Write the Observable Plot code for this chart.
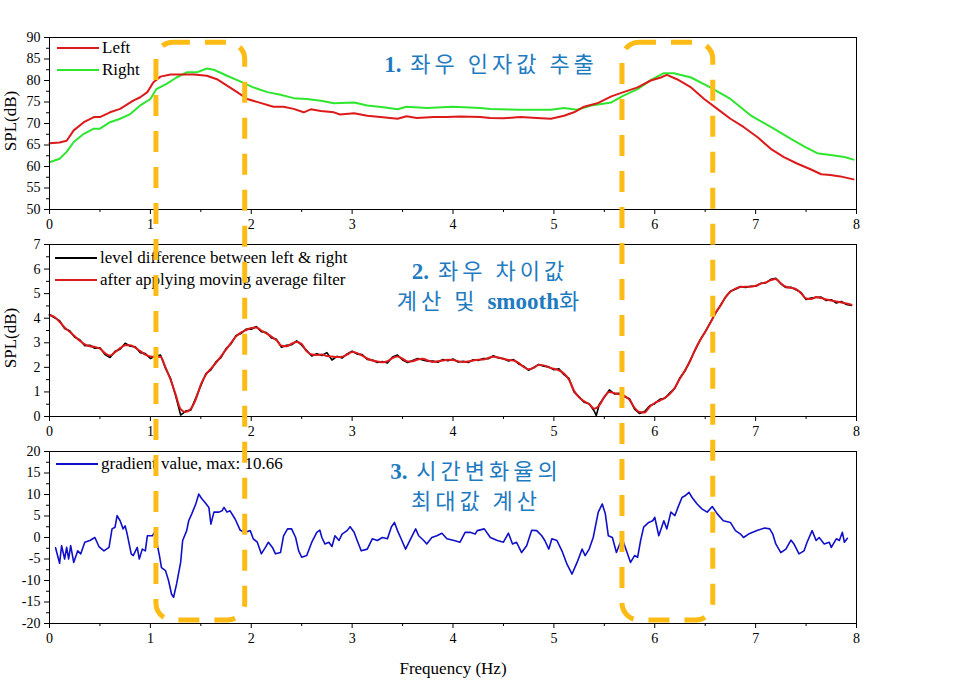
<!DOCTYPE html>
<html><head><meta charset="utf-8">
<script src="https://cdn.jsdelivr.net/npm/d3@7"></script>
<script src="https://cdn.jsdelivr.net/npm/@observablehq/plot@0.6"></script>
<style>
body{margin:0;background:#fff;}
#wrap{position:relative;width:954px;height:695px;background:#fff;overflow:hidden;}
.pl{position:absolute;left:0;}
.legend{position:absolute;display:flex;align-items:center;font-size:17px;font-family:"Liberation Serif",serif;white-space:nowrap;height:22px;color:#000;}
.legend svg{margin-right:3px;}
.ann{position:absolute;color:#1f7bbf;font-family:"Noto Sans CJK KR",sans-serif;font-size:22px;text-align:center;letter-spacing:4px;line-height:27.5px;white-space:nowrap;transform:translateX(-50%);}
.ann b{font-family:"Liberation Serif",serif;font-weight:bold;letter-spacing:0;font-size:23px;}
.ylab{position:absolute;font-family:"Liberation Serif",serif;font-size:17px;transform:translate(-50%,-50%) rotate(-90deg);white-space:nowrap;}
.xlab{position:absolute;font-family:"Liberation Serif",serif;font-size:17px;transform:translate(-50%,-50%);white-space:nowrap;}
</style></head>
<body>
<div id="wrap"></div>
<script>
// ---------- data ----------
const xTicks = [0,1,2,3,4,5,6,7,8];
const xMinor = [0.5,1.5,2.5,3.5,4.5,5.5,6.5,7.5];

const p1Ticks = [50,55,60,65,70,75,80,85,90];
const p1Minor = [52.5,57.5,62.5,67.5,72.5,77.5,82.5,87.5];
const p2Ticks = [0,1,2,3,4,5,6,7];
const p2Minor = [0.5,1.5,2.5,3.5,4.5,5.5,6.5];
const p3Ticks = [-20,-15,-10,-5,0,5,10,15,20];
const p3Minor = [-17.5,-12.5,-7.5,-2.5,2.5,7.5,12.5,17.5];

const leftSPL = [[0,65.4],[0.1,65.6],[0.17,66.0],[0.24,68.4],[0.34,70.3],[0.44,71.5],[0.5,71.5],[0.6,72.6],[0.7,73.4],[0.83,75.3],[0.9,76.1],[0.97,77.3],[1.03,79.6],[1.1,80.9],[1.2,81.4],[1.33,81.4],[1.43,81.4],[1.56,81.1],[1.66,80.3],[1.76,78.8],[1.86,77.3],[1.96,75.7],[2.09,74.8],[2.22,73.9],[2.32,73.9],[2.42,73.4],[2.52,72.6],[2.59,73.3],[2.69,72.9],[2.82,72.6],[2.88,72.1],[3.02,72.4],[3.15,71.8],[3.28,71.5],[3.45,71.1],[3.54,71.7],[3.64,71.3],[3.81,71.5],[3.94,71.5],[4.07,71.6],[4.27,71.5],[4.37,71.3],[4.5,71.2],[4.67,71.5],[4.83,71.3],[4.97,71.1],[5.1,71.8],[5.2,72.6],[5.3,73.9],[5.43,74.7],[5.57,76.3],[5.69,77.3],[5.83,78.4],[5.96,80.0],[6.06,80.7],[6.12,81.3],[6.22,80.3],[6.36,78.4],[6.49,75.7],[6.62,73.4],[6.75,71.1],[6.88,69.2],[7.02,66.8],[7.15,64.1],[7.28,62.2],[7.41,60.7],[7.55,59.3],[7.65,58.2],[7.74,58.0],[7.84,57.7],[7.97,57.0]];

const rightSPL = [[0,61.0],[0.1,61.8],[0.17,63.4],[0.24,65.7],[0.34,67.6],[0.44,68.8],[0.5,68.8],[0.6,70.3],[0.7,71.1],[0.8,72.2],[0.9,74.2],[1.0,75.7],[1.06,78.0],[1.16,79.2],[1.26,80.7],[1.36,81.9],[1.46,81.9],[1.56,82.8],[1.63,82.5],[1.76,81.1],[1.89,79.8],[2.02,78.4],[2.16,77.3],[2.29,76.7],[2.42,75.9],[2.55,75.7],[2.69,75.3],[2.82,74.7],[3.02,74.9],[3.15,74.2],[3.31,73.8],[3.45,73.3],[3.54,73.9],[3.74,73.6],[4.0,73.9],[4.27,73.6],[4.37,73.4],[4.67,73.2],[4.97,73.2],[5.1,73.6],[5.23,73.2],[5.37,74.2],[5.57,74.9],[5.69,76.5],[5.83,78.0],[5.96,80.1],[6.09,81.7],[6.19,81.7],[6.36,80.7],[6.55,78.4],[6.75,75.7],[6.95,71.9],[7.15,69.2],[7.35,66.4],[7.48,64.7],[7.61,63.1],[7.74,62.7],[7.88,62.2],[7.97,61.6]];

const levelDiff = [[0,4.15],[0.05,4.02],[0.1,3.90],[0.15,3.58],[0.2,3.49],[0.25,3.22],[0.3,3.12],[0.35,2.88],[0.4,2.90],[0.45,2.78],[0.5,2.80],[0.55,2.52],[0.6,2.40],[0.65,2.66],[0.7,2.74],[0.75,2.98],[0.8,2.86],[0.85,2.84],[0.9,2.60],[0.95,2.56],[1.0,2.36],[1.05,2.46],[1.1,2.50],[1.15,1.96],[1.2,1.55],[1.25,0.85],[1.3,0.06],[1.35,0.22],[1.4,0.26],[1.45,0.75],[1.5,1.25],[1.55,1.74],[1.6,1.90],[1.65,2.22],[1.7,2.40],[1.75,2.76],[1.8,2.96],[1.85,3.30],[1.9,3.38],[1.95,3.56],[2.0,3.55],[2.05,3.66],[2.1,3.45],[2.15,3.42],[2.2,3.20],[2.25,3.14],[2.3,2.82],[2.35,2.90],[2.4,2.92],[2.45,3.08],[2.5,2.90],[2.55,2.68],[2.6,2.46],[2.65,2.55],[2.7,2.48],[2.75,2.60],[2.8,2.30],[2.85,2.45],[2.9,2.38],[2.95,2.55],[3.0,2.66],[3.05,2.54],[3.1,2.52],[3.15,2.32],[3.2,2.30],[3.25,2.20],[3.3,2.24],[3.35,2.18],[3.4,2.42],[3.45,2.50],[3.5,2.30],[3.55,2.20],[3.6,2.28],[3.65,2.36],[3.7,2.30],[3.75,2.25],[3.8,2.26],[3.85,2.21],[3.9,2.32],[3.95,2.27],[4.0,2.34],[4.05,2.22],[4.1,2.25],[4.15,2.20],[4.2,2.31],[4.25,2.28],[4.3,2.36],[4.35,2.35],[4.4,2.47],[4.45,2.38],[4.5,2.36],[4.55,2.26],[4.6,2.32],[4.65,2.14],[4.7,2.05],[4.75,1.88],[4.8,2.00],[4.85,2.12],[4.9,2.05],[4.95,2.02],[5.0,1.90],[5.05,1.94],[5.1,1.70],[5.15,1.55],[5.2,1.00],[5.25,0.80],[5.3,0.58],[5.35,0.52],[5.4,0.22],[5.42,0.04],[5.45,0.50],[5.5,0.78],[5.55,1.08],[5.6,0.92],[5.65,0.94],[5.7,0.80],[5.75,0.72],[5.8,0.30],[5.85,0.12],[5.9,0.20],[5.95,0.44],[6.0,0.52],[6.05,0.70],[6.1,0.74],[6.15,0.96],[6.2,1.15],[6.25,1.58],[6.3,1.85],[6.35,2.28],[6.4,2.70],[6.45,3.12],[6.5,3.44],[6.55,3.82],[6.6,4.18],[6.65,4.52],[6.7,4.84],[6.75,5.10],[6.8,5.18],[6.85,5.29],[6.9,5.25],[6.95,5.30],[7.0,5.30],[7.05,5.42],[7.1,5.44],[7.15,5.58],[7.2,5.62],[7.25,5.40],[7.3,5.25],[7.35,5.26],[7.4,5.16],[7.45,5.05],[7.5,4.76],[7.55,4.82],[7.6,4.84],[7.65,4.86],[7.7,4.72],[7.75,4.75],[7.8,4.62],[7.85,4.68],[7.9,4.56],[7.95,4.52]];

const smoothDiff = [[0,4.12],[0.05,4.05],[0.1,3.85],[0.15,3.62],[0.2,3.45],[0.25,3.27],[0.3,3.08],[0.35,2.94],[0.4,2.86],[0.45,2.83],[0.5,2.76],[0.55,2.58],[0.6,2.48],[0.65,2.62],[0.7,2.78],[0.75,2.90],[0.8,2.90],[0.85,2.80],[0.9,2.66],[0.95,2.52],[1.0,2.44],[1.05,2.42],[1.1,2.43],[1.15,2.00],[1.2,1.50],[1.25,0.90],[1.3,0.30],[1.35,0.18],[1.4,0.31],[1.45,0.70],[1.5,1.30],[1.55,1.70],[1.6,1.95],[1.65,2.18],[1.7,2.45],[1.75,2.72],[1.8,3.00],[1.85,3.26],[1.9,3.42],[1.95,3.52],[2.0,3.60],[2.05,3.62],[2.1,3.50],[2.15,3.38],[2.2,3.25],[2.25,3.10],[2.3,2.88],[2.35,2.86],[2.4,2.96],[2.45,3.03],[2.5,2.95],[2.55,2.65],[2.6,2.52],[2.65,2.50],[2.7,2.52],[2.75,2.46],[2.8,2.44],[2.85,2.42],[2.9,2.43],[2.95,2.52],[3.0,2.62],[3.05,2.58],[3.1,2.48],[3.15,2.36],[3.2,2.28],[3.25,2.24],[3.3,2.21],[3.35,2.25],[3.4,2.38],[3.45,2.44],[3.5,2.35],[3.55,2.24],[3.6,2.25],[3.65,2.32],[3.7,2.35],[3.75,2.28],[3.8,2.22],[3.85,2.25],[3.9,2.28],[3.95,2.31],[4.0,2.30],[4.05,2.25],[4.1,2.22],[4.15,2.24],[4.2,2.28],[4.25,2.31],[4.3,2.32],[4.35,2.38],[4.4,2.43],[4.45,2.40],[4.5,2.34],[4.55,2.30],[4.6,2.28],[4.65,2.18],[4.7,2.02],[4.75,1.92],[4.8,1.98],[4.85,2.10],[4.9,2.08],[4.95,2.00],[5.0,1.94],[5.05,1.88],[5.1,1.75],[5.15,1.50],[5.2,1.05],[5.25,0.78],[5.3,0.62],[5.35,0.50],[5.4,0.32],[5.45,0.45],[5.5,0.80],[5.55,1.00],[5.6,0.95],[5.65,0.90],[5.7,0.84],[5.75,0.68],[5.8,0.35],[5.85,0.18],[5.9,0.16],[5.95,0.40],[6.0,0.55],[6.05,0.65],[6.1,0.76],[6.15,0.92],[6.2,1.18],[6.25,1.55],[6.3,1.88],[6.35,2.25],[6.4,2.72],[6.45,3.10],[6.5,3.45],[6.55,3.80],[6.6,4.20],[6.65,4.50],[6.7,4.85],[6.75,5.08],[6.8,5.20],[6.85,5.27],[6.9,5.28],[6.95,5.28],[7.0,5.32],[7.05,5.40],[7.1,5.46],[7.15,5.55],[7.2,5.60],[7.25,5.42],[7.3,5.28],[7.35,5.24],[7.4,5.18],[7.45,5.02],[7.5,4.80],[7.55,4.78],[7.6,4.86],[7.65,4.82],[7.7,4.76],[7.75,4.72],[7.8,4.68],[7.85,4.64],[7.9,4.60],[7.95,4.55]];

const gradient = [[0.06,-2.4],[0.1,-6.0],[0.12,-1.9],[0.15,-5.0],[0.17,-2.3],[0.19,-5.0],[0.21,-1.9],[0.24,-5.8],[0.28,-3.1],[0.31,-3.8],[0.35,-1.1],[0.4,-0.7],[0.45,0.0],[0.49,-2.1],[0.54,-3.1],[0.59,-2.3],[0.62,2.0],[0.65,2.4],[0.67,5.1],[0.7,3.9],[0.73,2.0],[0.75,2.7],[0.77,0.8],[0.81,-3.8],[0.83,-4.2],[0.87,-2.3],[0.89,-5.0],[0.92,-2.7],[0.95,-3.1],[0.97,0.4],[1.02,0.4],[1.04,1.2],[1.06,-0.7],[1.09,-4.2],[1.11,-7.0],[1.15,-7.7],[1.18,-10.0],[1.21,-13.2],[1.23,-13.9],[1.26,-10.8],[1.3,-5.8],[1.32,-0.7],[1.36,1.6],[1.38,3.9],[1.41,5.5],[1.45,7.8],[1.48,10.1],[1.51,9.0],[1.54,8.2],[1.58,7.0],[1.6,3.1],[1.63,5.9],[1.68,5.9],[1.71,6.2],[1.73,7.0],[1.76,5.9],[1.79,6.2],[1.84,4.3],[1.89,1.7],[1.94,1.2],[1.99,1.6],[2.02,-0.3],[2.06,-1.1],[2.1,-3.8],[2.14,-2.3],[2.17,-1.1],[2.21,-2.3],[2.24,-3.8],[2.29,-3.5],[2.32,0.4],[2.36,2.0],[2.4,2.0],[2.44,0.0],[2.47,-3.1],[2.5,-4.6],[2.55,-4.2],[2.6,-1.1],[2.65,1.2],[2.68,1.7],[2.7,0.0],[2.73,-1.5],[2.77,-1.1],[2.8,-2.1],[2.83,0.4],[2.87,-0.7],[2.9,0.8],[2.95,1.6],[2.98,2.5],[3.02,1.2],[3.05,-0.7],[3.09,-3.1],[3.15,-2.7],[3.2,-0.3],[3.25,-0.7],[3.3,0.0],[3.35,-0.3],[3.39,2.5],[3.42,3.5],[3.45,1.6],[3.48,0.0],[3.53,-2.7],[3.58,-0.3],[3.63,2.0],[3.66,0.4],[3.71,-0.7],[3.74,-1.5],[3.79,0.0],[3.84,0.4],[3.89,1.0],[3.94,-0.3],[4.01,-0.7],[4.07,-1.1],[4.12,1.2],[4.17,1.2],[4.22,0.8],[4.24,1.6],[4.31,2.0],[4.37,0.0],[4.44,-0.7],[4.5,-1.1],[4.55,1.0],[4.59,-1.5],[4.63,-1.1],[4.68,-3.5],[4.73,-1.9],[4.78,1.7],[4.83,1.6],[4.88,0.4],[4.91,-0.7],[4.95,-2.7],[4.98,-0.3],[5.03,-0.7],[5.08,-3.1],[5.13,-6.2],[5.18,-8.5],[5.23,-5.8],[5.28,-2.7],[5.31,-4.2],[5.35,-2.7],[5.39,0.0],[5.44,5.9],[5.48,7.8],[5.51,5.5],[5.54,0.4],[5.58,0.0],[5.62,-3.5],[5.66,-1.1],[5.69,-1.1],[5.73,-3.8],[5.76,-5.8],[5.8,-4.2],[5.83,-4.6],[5.86,-0.7],[5.89,2.4],[5.94,3.5],[5.98,3.9],[6.0,4.7],[6.04,0.4],[6.09,3.9],[6.12,2.0],[6.16,5.9],[6.2,5.1],[6.23,7.0],[6.27,9.3],[6.3,9.7],[6.34,10.5],[6.37,9.3],[6.42,7.8],[6.47,6.6],[6.52,5.9],[6.57,7.2],[6.62,5.5],[6.68,3.9],[6.75,3.5],[6.8,1.6],[6.85,0.8],[6.88,0.0],[6.93,0.8],[7.02,1.7],[7.09,2.2],[7.14,2.0],[7.17,0.8],[7.2,-1.5],[7.25,-3.5],[7.3,-2.7],[7.35,-0.6],[7.38,-1.5],[7.43,-3.8],[7.48,-3.1],[7.51,-1.1],[7.56,1.6],[7.6,-0.7],[7.63,0.0],[7.68,-1.5],[7.73,-1.1],[7.75,-2.3],[7.8,-0.3],[7.83,-0.7],[7.86,1.2],[7.88,-1.1],[7.91,-0.2]];

// highlight boxes: frequency ranges, top in panel-1 dB units, bottom in panel-3 gradient units
const boxRanges = [[1.06,1.94],[5.68,6.58]];
const boxTopSPL = 88.8;
const boxBottomGrad = -19.3;

// ---------- layout ----------
const W = 954, ML = 49, MR = 98, PH = 172;
const tops = [0, 235, 442];
const mts = [37, 9, 9];
const mb = 26;
const fmt = d => String(d);

function panel(i, yDomain, yTicks, yMinor, marks) {
  const p = Plot.plot({
    width: W, height: mts[i] + PH + mb,
    marginTop: mts[i], marginBottom: mb, marginLeft: ML, marginRight: MR,
    x: {domain: [0, 8]},
    y: {domain: yDomain},
    style: {fontFamily: "Liberation Serif, serif", fontSize: "14px", color: "black", background: "transparent", overflow: "visible"},
    marks: [
      Plot.axisX({ticks: xTicks, tickSize: 5, tickPadding: 5, tickFormat: fmt, label: null, fontSize: 14}),
      Plot.axisX({ticks: xMinor, tickSize: 3, tickFormat: () => "", label: null}),
      Plot.axisY({ticks: yTicks, tickSize: 5, tickPadding: 4, tickFormat: fmt, label: null, fontSize: 14}),
      Plot.axisY({ticks: yMinor, tickSize: 3, tickFormat: () => "", label: null}),
      ...marks,
      Plot.frame({stroke: "black", strokeWidth: 1})
    ]
  });
  p.classList.add("pl");
  p.style.top = tops[i] + "px";
  return p;
}

const RED = "#dd1a1a", GREEN = "#2ee62e", BLUE = "#1010c8";

const p1 = panel(0, [50, 90], p1Ticks, p1Minor, [
  Plot.line(rightSPL, {x: d => d[0], y: d => d[1], stroke: GREEN, strokeWidth: 2}),
  Plot.line(leftSPL, {x: d => d[0], y: d => d[1], stroke: RED, strokeWidth: 2})
]);
const p2 = panel(1, [0, 7], p2Ticks, p2Minor, [
  Plot.line(levelDiff, {x: d => d[0], y: d => d[1], stroke: "black", strokeWidth: 1.6}),
  Plot.line(smoothDiff, {x: d => d[0], y: d => d[1], stroke: RED, strokeWidth: 2, curve: "monotone-x"})
]);
const p3 = panel(2, [-20, 20], p3Ticks, p3Minor, [
  Plot.line(gradient, {x: d => d[0], y: d => d[1], stroke: BLUE, strokeWidth: 1.6})
]);

const wrap = document.getElementById("wrap");
wrap.append(p1, p2, p3);

// ---------- legends ----------
function legend(x, y, color, label) {
  const d = document.createElement("div");
  d.className = "legend";
  d.style.left = x + "px"; d.style.top = (y - 11) + "px";
  d.innerHTML = `<svg width="42" height="4"><line x1="0" y1="2" x2="42" y2="2" stroke="${color}" stroke-width="2"/></svg><span>${label}</span>`;
  wrap.append(d);
}
legend(57, 48, RED, "Left");
legend(57, 70, GREEN, "Right");
legend(55, 258, "black", "level difference between left &amp; right");
legend(55, 280, RED, "after applying moving average filter");
legend(56, 464, BLUE, "gradient value, max: 10.66");

// ---------- annotations ----------
function ann(x, y, html) {
  const d = document.createElement("div");
  d.className = "ann";
  d.style.left = x + "px"; d.style.top = y + "px";
  d.innerHTML = html;
  wrap.append(d);
}
ann(491, 49, "<b>1.</b> 좌우 인자값 추출");
ann(490, 256, "<b>2.</b> 좌우 차이값<br>계산 및 <b>smooth</b>화");
ann(476, 456, "<b>3.</b> 시간변화율의<br>최대값 계산");

// axis titles
function txt(cls, x, y, s) {
  const d = document.createElement("div");
  d.className = cls; d.style.left = x + "px"; d.style.top = y + "px"; d.textContent = s;
  wrap.append(d);
}
txt("ylab", 11, 121, "SPL(dB)");
txt("ylab", 11, 338, "SPL(dB)");
txt("xlab", 453, 669, "Frequency (Hz)");

// ---------- highlight boxes ----------
const NS = "http://www.w3.org/2000/svg";
const ov = document.createElementNS(NS, "svg");
ov.setAttribute("width", W); ov.setAttribute("height", 695);
ov.style.position = "absolute"; ov.style.left = "0"; ov.style.top = "0"; ov.style.pointerEvents = "none";
const sx = p1.scale("x"), sy1 = p1.scale("y"), sy3 = p3.scale("y");
for (const [a, b] of boxRanges) {
  const x0 = sx.apply(a), x1 = sx.apply(b);
  const yt = tops[0] + sy1.apply(boxTopSPL), yb = tops[2] + sy3.apply(boxBottomGrad);
  const r = document.createElementNS(NS, "rect");
  r.setAttribute("x", x0); r.setAttribute("y", yt);
  r.setAttribute("width", x1 - x0); r.setAttribute("height", yb - yt);
  r.setAttribute("rx", 17); r.setAttribute("ry", 17);
  r.setAttribute("fill", "none"); r.setAttribute("stroke", "#fdbb16");
  r.setAttribute("stroke-width", 5); r.setAttribute("stroke-dasharray", "21 15");
  r.setAttribute("stroke-dashoffset", 4);
  ov.append(r);
}
wrap.append(ov);
</script>
</body></html>
